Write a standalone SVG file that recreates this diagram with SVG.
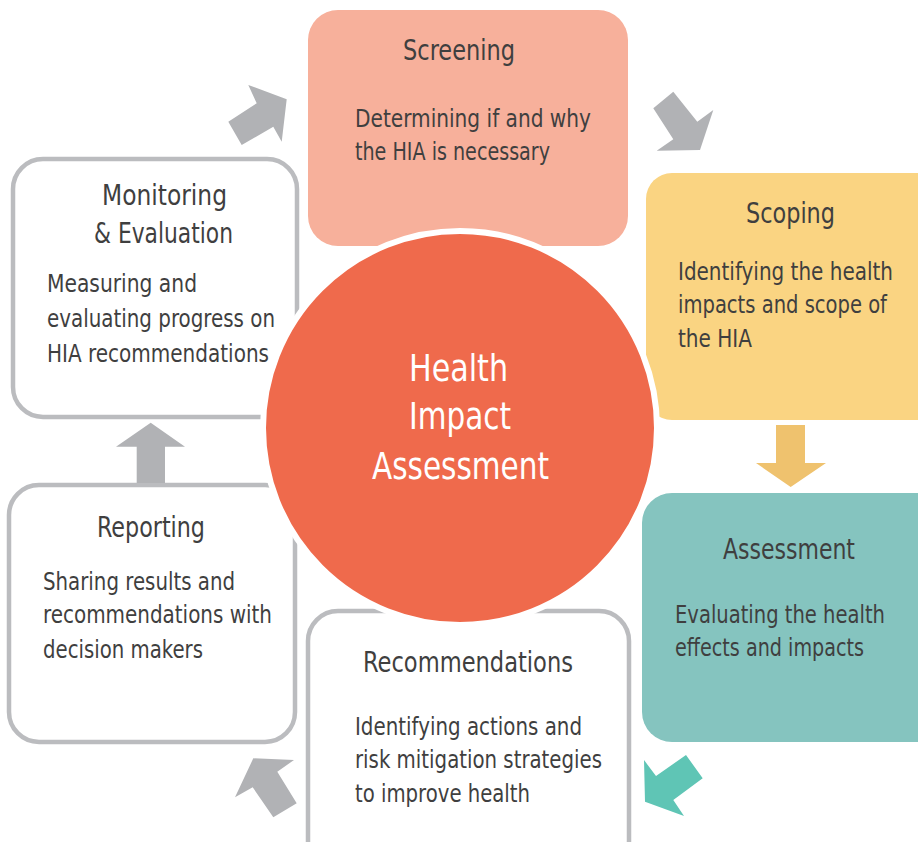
<svg xmlns="http://www.w3.org/2000/svg" width="918" height="842" viewBox="0 0 918 842">
<style>
.title{font-family:"Liberation Sans Narrow","DejaVu Sans Condensed","Liberation Sans",sans-serif;font-size:29px;fill:#3f3f3f}
.body{font-family:"Liberation Sans Narrow","DejaVu Sans Condensed","Liberation Sans",sans-serif;font-size:24px;fill:#3f3f3f}
.center{font-family:"Liberation Sans Narrow","DejaVu Sans Condensed","Liberation Sans",sans-serif;font-size:38px;fill:#ffffff}
.wbox{fill:#ffffff;stroke:#bbbcbf;stroke-width:4.5}
.garrow{fill:#b1b2b5}
</style>
<rect width="918" height="842" fill="#ffffff"/>
<g id="screening">
<rect x="308" y="10" width="320" height="236" rx="30" fill="#f7b09b"/>
<text class="title" x="403" y="60" textLength="112" lengthAdjust="spacingAndGlyphs">Screening</text>
<text class="body" x="355" y="127" textLength="236" lengthAdjust="spacingAndGlyphs">Determining if and why</text>
<text class="body" x="355" y="160" textLength="195" lengthAdjust="spacingAndGlyphs">the HIA is necessary</text>
</g>
<g id="scoping">
<rect x="646" y="173" width="300" height="247" rx="26" fill="#fad482"/>
<text class="title" x="746" y="223" textLength="89" lengthAdjust="spacingAndGlyphs">Scoping</text>
<text class="body" x="678" y="280" textLength="215" lengthAdjust="spacingAndGlyphs">Identifying the health</text>
<text class="body" x="678" y="313" textLength="209" lengthAdjust="spacingAndGlyphs">impacts and scope of</text>
<text class="body" x="678" y="347" textLength="74" lengthAdjust="spacingAndGlyphs">the HIA</text>
</g>
<g id="assessment">
<rect x="642" y="493" width="310" height="249" rx="30" fill="#85c4bf"/>
<text class="title" x="723" y="559" textLength="132" lengthAdjust="spacingAndGlyphs">Assessment</text>
<text class="body" x="675" y="623" textLength="210" lengthAdjust="spacingAndGlyphs">Evaluating the health</text>
<text class="body" x="675" y="656" textLength="189" lengthAdjust="spacingAndGlyphs">effects and impacts</text>
</g>
<g id="recommendations">
<rect class="wbox" x="308" y="611" width="321" height="260" rx="30"/>
<text class="title" x="363" y="672" textLength="210" lengthAdjust="spacingAndGlyphs">Recommendations</text>
<text class="body" x="355" y="735" textLength="227" lengthAdjust="spacingAndGlyphs">Identifying actions and</text>
<text class="body" x="355" y="768" textLength="247" lengthAdjust="spacingAndGlyphs">risk mitigation strategies</text>
<text class="body" x="355" y="802" textLength="175" lengthAdjust="spacingAndGlyphs">to improve health</text>
</g>
<g id="reporting">
<rect class="wbox" x="9" y="485" width="286" height="257" rx="30"/>
<text class="title" x="97" y="537" textLength="108" lengthAdjust="spacingAndGlyphs">Reporting</text>
<text class="body" x="43" y="590" textLength="192" lengthAdjust="spacingAndGlyphs">Sharing results and</text>
<text class="body" x="43" y="623" textLength="229" lengthAdjust="spacingAndGlyphs">recommendations with</text>
<text class="body" x="43" y="658" textLength="160" lengthAdjust="spacingAndGlyphs">decision makers</text>
</g>
<g id="monitoring">
<rect class="wbox" x="13" y="159" width="284" height="258" rx="30"/>
<text class="title" x="102" y="205" textLength="125" lengthAdjust="spacingAndGlyphs">Monitoring</text>
<text class="title" x="94" y="243" textLength="139" lengthAdjust="spacingAndGlyphs">&amp; Evaluation</text>
<text class="body" x="47" y="292" textLength="150" lengthAdjust="spacingAndGlyphs">Measuring and</text>
<text class="body" x="47" y="327" textLength="228" lengthAdjust="spacingAndGlyphs">evaluating progress on</text>
<text class="body" x="47" y="362" textLength="222" lengthAdjust="spacingAndGlyphs">HIA recommendations</text>
</g>
<g id="hia">
<circle cx="460" cy="428" r="197" fill="#ef6a4c" stroke="#ffffff" stroke-width="6"/>
<text class="center" x="409" y="381" textLength="99" lengthAdjust="spacingAndGlyphs">Health</text>
<text class="center" x="409" y="429" textLength="102" lengthAdjust="spacingAndGlyphs">Impact</text>
<text class="center" x="372" y="479" textLength="177" lengthAdjust="spacingAndGlyphs">Assessment</text>
</g>
<g id="connectors">
<polygon class="garrow" points="248.3,85 256.7,103.3 228.3,121.7 241.7,145 273.3,126.7 281.7,141.7 286.7,99.3"/>
<polygon class="garrow" points="653.3,108.3 673.3,91.7 697.3,121.7 713.3,110 700,150 656.7,150.7 673.3,139.3"/>
<polygon fill="#efc26e" points="776,425 805,425 805,463 826,463 790.7,487 756,463 776,463"/>
<polygon fill="#5fc5b5" points="644,760 656,776 686,755 702.7,778.3 673.3,800 684,816 645,801.7"/>
<polygon class="garrow" points="235,797.3 253.3,758.3 294,760 277.3,771.7 296.7,803.3 273.3,817.3 252.7,787.3"/>
<polygon class="garrow" points="150.7,422.7 185,446.7 165,446.7 165,483 136.7,483 136.7,446.7 116,446.7"/>
</g>
</svg>
